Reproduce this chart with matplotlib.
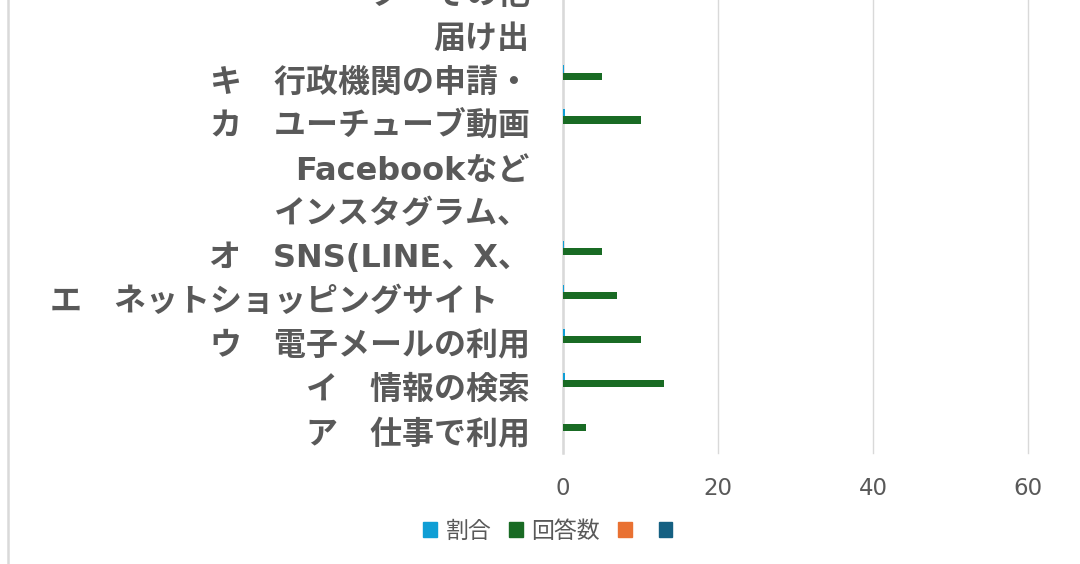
import numpy as np
import matplotlib
matplotlib.use("Agg")
import matplotlib.pyplot as plt
from matplotlib.patches import Rectangle
from matplotlib.lines import Line2D

plt.rcParams['font.family'] = ['DejaVu Sans', 'Noto Sans CJK JP']

# categories, bottom to top (some labels were split over several rows)
categories = [
    "ア　仕事で利用",
    "イ　情報の検索",
    "ウ　電子メールの利用",
    "エ　ネットショッピングサイト　",
    "オ　SNS(LINE、X、",
    "インスタグラム、",
    "Facebookなど",
    "カ　ユーチューブ動画",
    "キ　行政機関の申請・",
    "届け出",
    "ク　その他",
]
ratio = [0.06, 0.26, 0.2, 0.14, 0.1, 0, 0, 0.2, 0.1, 0, 0]
answers = [3, 13, 10, 7, 5, 0, 0, 10, 5, 0, 0]
empty_a = [0] * len(categories)
empty_b = [0] * len(categories)

series_names = ["割合", "回答数", "", ""]
colors = ["#0F9ED5", "#196B24", "#E97132", "#156082"]
x_ticks = [0, 20, 40, 60]

text_color = "#595959"
grid_color = "#d9d9d9"

fig = plt.figure(figsize=(10.8, 5.64), dpi=100)
# plot area runs past the top edge, as in the cropped original
ax = fig.add_axes([563 / 1080, 111 / 564, 465 / 1080, 483 / 564])

y = np.arange(len(categories))
h = 0.165
offsets = [1.5 * h, 0.5 * h, -0.5 * h, -1.5 * h]
for vals, off, col in zip([ratio, answers, empty_a, empty_b], offsets, colors):
    ax.barh(y + off, vals, height=h, color=col, zorder=3)

ax.set_xlim(0, 60)
ax.set_ylim(-0.5, len(categories) - 0.5)
ax.set_xticks(x_ticks)
ax.set_xticklabels([str(t) for t in x_ticks], fontsize=16.5, color=text_color)
ax.set_yticks(y)
ax.set_yticklabels(categories, fontsize=23, fontweight='bold', color=text_color)
ax.tick_params(axis='x', length=0, pad=17)
ax.tick_params(axis='y', length=0, pad=24)

ax.xaxis.grid(True, color=grid_color, linewidth=1.0, zorder=0)
for gl in ax.get_xgridlines():
    gl.set_clip_on(False)  # keep the 60 line whole at the right edge
ax.set_axisbelow(True)
for s in ['top', 'right', 'bottom']:
    ax.spines[s].set_visible(False)
ax.spines['left'].set_color(grid_color)
ax.spines['left'].set_linewidth(1.8)

# legend
handles = [Rectangle((0, 0), 1, 1, color=c) for c in colors]
fig.legend(handles, series_names, loc='center', bbox_to_anchor=(552 / 1080, 1 - 531 / 564),
           ncol=4, frameon=False, handlelength=0.6, handleheight=0.6,
           handletextpad=0.36, columnspacing=0.8,
           prop={'family': ['Noto Sans CJK JP'], 'size': 16.5}, labelcolor=text_color)

# chart area border (only left edge visible)
fig.add_artist(Line2D([8 / 1080, 8 / 1080], [0, 1], transform=fig.transFigure,
                      color=grid_color, linewidth=1.8))

fig.savefig("out.png", dpi=100)
